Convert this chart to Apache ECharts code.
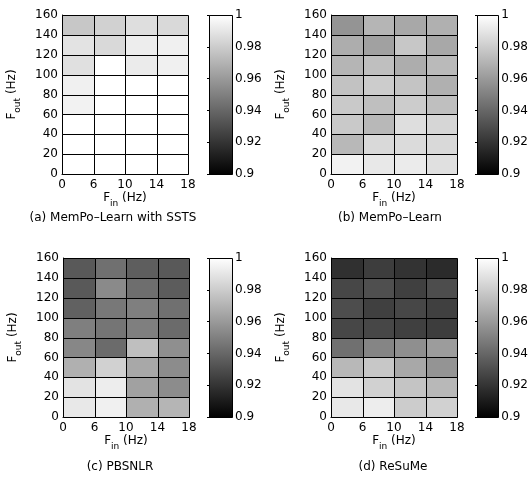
<!DOCTYPE html>
<html>
<head>
<meta charset="utf-8">
<script src="https://cdn.jsdelivr.net/npm/echarts@6/dist/echarts.min.js"></script>
<style>
  html, body { margin: 0; padding: 0; background: #fff; }
  #chart { width: 531px; height: 477px; }
</style>
</head>
<body>
<div id="chart"></div>
<script>
// Bin edges of the input rate (F_in) and output rate (F_out), in Hz
const X_TICKS = [0, 6, 10, 14, 18];
const Y_TICKS = [0, 20, 40, 60, 80, 100, 120, 140, 160];
// Colour scale range of the correlation measure
const COLOR_MIN = 0.9;
const COLOR_MAX = 1;
const COLOR_STEP = 0.02;

const PANEL_TITLES = [
  '(a) MemPo\u2013Learn with SSTS',
  '(b) MemPo\u2013Learn',
  '(c) PBSNLR',
  '(d) ReSuMe'
];

// Each array: one row per F_out bin, from 0–20 Hz (first) up to 140–160 Hz (last);
// each row holds the four F_in bins 0–6, 6–10, 10–14, 14–18 Hz.
const MEMPO_SSTS = [
  [1.000, 1.000, 1.000, 1.000],
  [1.000, 1.000, 1.000, 1.000],
  [1.000, 1.000, 1.000, 1.000],
  [0.995, 1.000, 1.000, 1.000],
  [0.994, 1.000, 1.000, 1.000],
  [0.988, 1.000, 0.992, 0.994],
  [0.989, 0.985, 0.993, 0.994],
  [0.978, 0.982, 0.987, 0.985]
];
const MEMPO = [
  [0.995, 0.991, 0.992, 0.988],
  [0.972, 0.985, 0.986, 0.985],
  [0.979, 0.972, 0.987, 0.984],
  [0.979, 0.975, 0.980, 0.975],
  [0.976, 0.980, 0.977, 0.969],
  [0.971, 0.975, 0.968, 0.973],
  [0.968, 0.963, 0.978, 0.966],
  [0.958, 0.971, 0.966, 0.969]
];
const PBSNLR = [
  [0.991, 0.994, 0.969, 0.971],
  [0.989, 0.993, 0.963, 0.955],
  [0.969, 0.982, 0.966, 0.955],
  [0.953, 0.942, 0.975, 0.956],
  [0.950, 0.946, 0.950, 0.942],
  [0.938, 0.947, 0.950, 0.944],
  [0.935, 0.954, 0.943, 0.936],
  [0.935, 0.944, 0.937, 0.935]
];
const RESUME = [
  [0.991, 0.993, 0.980, 0.982],
  [0.989, 0.982, 0.977, 0.972],
  [0.972, 0.978, 0.966, 0.958],
  [0.944, 0.952, 0.956, 0.961],
  [0.928, 0.928, 0.925, 0.924],
  [0.930, 0.925, 0.928, 0.925],
  [0.928, 0.931, 0.925, 0.930],
  [0.919, 0.924, 0.920, 0.917]
];
const PANEL_DATA = [MEMPO_SSTS, MEMPO, PBSNLR, RESUME];

const FONT = 'DejaVu Sans';
const FONT_SIZE = 12;

// Panel frames: heat-map area and its colour bar
const PANELS = [
  { grid: { left: 62, top: 15, width: 126, height: 159 }, bar: { left: 209, top: 15, width: 23, height: 159 }, titleX: 113, titleY: 218 },
  { grid: { left: 331, top: 15, width: 126, height: 159 }, bar: { left: 477, top: 15, width: 23, height: 159 }, titleX: 390, titleY: 218 },
  { grid: { left: 63, top: 258, width: 126, height: 159 }, bar: { left: 209, top: 258, width: 23, height: 159 }, titleX: 120, titleY: 467 },
  { grid: { left: 331, top: 258, width: 126, height: 159 }, bar: { left: 477, top: 258, width: 23, height: 159 }, titleX: 393, titleY: 467 }
];

const ROW_SPAN = Y_TICKS[1] - Y_TICKS[0];

const nameRich = {
  f: { fontFamily: FONT, fontSize: FONT_SIZE, color: '#000', verticalAlign: 'top', lineHeight: 14 },
  s: { fontFamily: FONT, fontSize: 9, color: '#000', verticalAlign: 'top', lineHeight: 10, padding: [7, 0, 0, 0] }
};

function crisp(v) { return Math.round(v) + 0.5; }

function cellItem(params, api) {
  const c = api.value(0);
  const y = api.value(1);
  const a = api.coord([c, y + ROW_SPAN]);
  const b = api.coord([c + 1, y]);
  const x0 = crisp(a[0]), y0 = crisp(a[1]);
  const x1 = crisp(b[0]), y1 = crisp(b[1]);
  return {
    type: 'rect',
    shape: { x: x0, y: y0, width: x1 - x0, height: y1 - y0 },
    style: { fill: api.visual('color'), stroke: '#000', lineWidth: 1 }
  };
}

function colorBarItem(params, api) {
  const a = api.coord([api.value(0), api.value(3)]);
  const b = api.coord([api.value(2), api.value(1)]);
  const x0 = crisp(a[0]), y0 = crisp(a[1]);
  const x1 = crisp(b[0]), y1 = crisp(b[1]);
  return {
    type: 'rect',
    shape: { x: x0, y: y0, width: x1 - x0, height: y1 - y0 },
    style: {
      fill: new echarts.graphic.LinearGradient(0, 0, 0, 1, [
        { offset: 0, color: '#ffffff' },
        { offset: 1, color: '#000000' }
      ]),
      stroke: '#000',
      lineWidth: 1
    }
  };
}

const grids = [], xAxes = [], yAxes = [], series = [], graphics = [];
const labelStyle = { color: '#000', fontFamily: FONT, fontSize: FONT_SIZE };

PANELS.forEach((p, i) => {
  // heat-map grid
  const g = grids.length;
  grids.push(Object.assign({ containLabel: false }, p.grid));
  xAxes.push({
    gridIndex: g, type: 'value', min: 0, max: X_TICKS.length - 1, interval: 1,
    axisLine: { show: true, lineStyle: { color: '#000', width: 1 } },
    axisTick: { show: false }, splitLine: { show: false },
    axisLabel: Object.assign({ margin: 5, formatter: v => String(X_TICKS[v]) }, labelStyle),
    name: '{f|F}{s|in}{f| (Hz)}', nameLocation: 'middle', nameGap: 17,
    nameTextStyle: { rich: nameRich }
  });
  yAxes.push({
    gridIndex: g, type: 'value', min: Y_TICKS[0], max: Y_TICKS[Y_TICKS.length - 1], interval: ROW_SPAN,
    axisLine: { show: true, lineStyle: { color: '#000', width: 1 } },
    axisTick: { show: false }, splitLine: { show: false },
    axisLabel: Object.assign({ margin: 4 }, labelStyle),
    name: '{f|F}{s|out}{f| (Hz)}', nameLocation: 'middle', nameRotate: 90, nameGap: 42,
    nameTextStyle: { rich: nameRich }
  });
  const cells = [];
  PANEL_DATA[i].forEach((row, r) => {
    row.forEach((v, c) => cells.push([c, Y_TICKS[r], v]));
  });
  series.push({
    type: 'custom', xAxisIndex: xAxes.length - 1, yAxisIndex: yAxes.length - 1,
    renderItem: cellItem, encode: { x: 0, y: 1 }, data: cells, silent: true
  });
  graphics.push({
    type: 'text', x: p.titleX, y: p.titleY,
    style: { text: PANEL_TITLES[i], fill: '#000', font: FONT_SIZE + 'px "' + FONT + '"', align: 'center', verticalAlign: 'middle' }
  });
});

PANELS.forEach((p) => {
  // colour bar grid
  const g = grids.length;
  grids.push(Object.assign({ containLabel: false }, p.bar));
  xAxes.push({ gridIndex: g, type: 'value', min: 0, max: 1, show: false });
  const tickStyle = { show: true, inside: true, length: 2, lineStyle: { color: '#000', width: 1 } };
  yAxes.push({
    gridIndex: g, type: 'value', position: 'right', min: COLOR_MIN, max: COLOR_MAX, interval: COLOR_STEP,
    axisLine: { show: false }, axisTick: tickStyle, splitLine: { show: false },
    axisLabel: Object.assign({ margin: 3, formatter: v => String(+v.toFixed(2)) }, labelStyle)
  });
  const rightIdx = yAxes.length - 1;
  yAxes.push({
    gridIndex: g, type: 'value', position: 'left', min: COLOR_MIN, max: COLOR_MAX, interval: COLOR_STEP,
    axisLine: { show: false }, axisTick: tickStyle, splitLine: { show: false },
    axisLabel: { show: false }
  });
  series.push({
    type: 'custom', xAxisIndex: xAxes.length - 1, yAxisIndex: rightIdx,
    renderItem: colorBarItem, encode: { x: [0, 2], y: [1, 3] },
    data: [[0, COLOR_MIN, 1, COLOR_MAX]], silent: true, z: 1
  });
});

const chart = echarts.init(document.getElementById('chart'), null, { renderer: 'canvas' });
chart.setOption({
  animation: false,
  backgroundColor: '#fff',
  grid: grids,
  xAxis: xAxes,
  yAxis: yAxes,
  visualMap: {
    type: 'continuous', show: false, min: COLOR_MIN, max: COLOR_MAX, dimension: 2,
    seriesIndex: [0, 1, 2, 3], inRange: { color: ['#000000', '#ffffff'] }
  },
  series: series,
  graphic: graphics
});
</script>
</body>
</html>
